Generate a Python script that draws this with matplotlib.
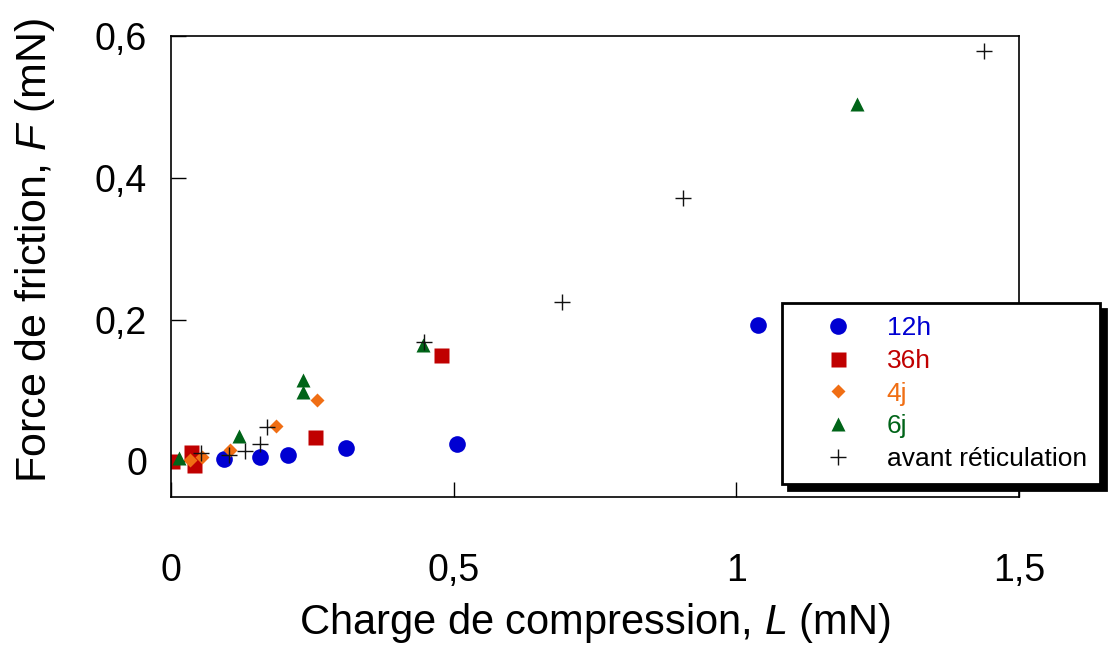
import matplotlib
matplotlib.use("Agg")
import matplotlib.pyplot as plt

plt.rcParams['font.family'] = ['Liberation Sans', 'DejaVu Sans']
plt.rcParams['mathtext.fontset'] = 'custom'
plt.rcParams['mathtext.rm'] = 'Liberation Sans'
plt.rcParams['mathtext.it'] = 'Liberation Sans:italic'

# charge L (mN) / force F (mN)
L_12h = [0.094, 0.157, 0.207, 0.31, 0.506, 1.038]
F_12h = [0.003, 0.0065, 0.009, 0.018, 0.024, 0.193]

L_36h = [0.003, 0.036, 0.041, 0.255, 0.478]
F_36h = [0.0, 0.0136, -0.005, 0.034, 0.150]

L_4j = [0.034, 0.056, 0.104, 0.186, 0.259]
F_4j = [0.002, 0.0057, 0.016, 0.050, 0.086]

L_6j = [0.015, 0.121, 0.233, 0.234, 0.445, 1.213]
F_6j = [0.004, 0.036, 0.115, 0.098, 0.1645, 0.504]

L_avant = [0.053, 0.103, 0.132, 0.158, 0.171, 0.448, 0.692, 0.906, 1.438]
F_avant = [0.012, 0.009, 0.015, 0.025, 0.049, 0.168, 0.225, 0.372, 0.579]

xticks = [0, 0.5, 1, 1.5]
xticklabels = ['0', '0,5', '1', '1,5']
yticks = [0, 0.2, 0.4, 0.6]
yticklabels = ['0', '0,2', '0,4', '0,6']

fig = plt.figure(figsize=(11.16, 6.48), dpi=100)
ax = fig.add_axes([0.153, 0.233, 0.7604, 0.711])

ax.plot(L_12h, F_12h, 'o', color='#0000D2', ms=12, mec='none', label='12h')
ax.plot(L_36h, F_36h, 's', color='#C00000', ms=10.8, mec='none', label='36h')
ax.plot(L_4j, F_4j, 'D', color='#F06E14', ms=7.6, mec='none', label='4j')
ax.plot(L_6j, F_6j, '^', color='#006418', ms=10, mec='none', label='6j')
ax.plot(L_avant, F_avant, '+', color='#111111', ms=11.5, mew=1.0,
        label='avant réticulation')

ax.set_xlim(0, 1.5)
ax.set_ylim(-0.0505, 0.6)
ax.set_xticks(xticks)
ax.set_xticklabels(xticklabels)
ax.set_yticks(yticks)
ax.set_yticklabels(yticklabels)
ax.tick_params(axis='x', direction='in', length=11, width=1, pad=40,
               labelsize=27, top=False)
ax.tick_params(axis='y', direction='in', length=11, width=1, pad=17,
               labelsize=27, right=False)
for s in ax.spines.values():
    s.set_linewidth(1.2)
    s.set_color('black')

ax.set_xlabel('Charge de compression, $\\mathit{L}$ (mN)', fontsize=30)
ax.set_ylabel('Force de friction, $\\mathit{F}$ (mN)', fontsize=31)
ax.xaxis.set_label_coords(0.5, -0.225)
ax.yaxis.set_label_coords(-0.134, 0.535)

leg = ax.legend(loc='upper left', bbox_to_anchor=(782 / 1116, 1 - 303 / 648),
                bbox_transform=fig.transFigure, fontsize=19, frameon=True,
                fancybox=False, framealpha=1, edgecolor='black',
                borderpad=0.5, handlelength=3.24, handletextpad=0.23,
                labelspacing=0.33, borderaxespad=0,
                shadow={'ox': 4.3, 'oy': -4.3, 'color': 'black', 'alpha': 1})
leg.get_frame().set_linewidth(2)
for t, h in zip(leg.get_texts(), leg.legend_handles):
    t.set_color(h.get_color())
leg.get_texts()[-1].set_color('black')

fig.savefig('out.png', dpi=100)
